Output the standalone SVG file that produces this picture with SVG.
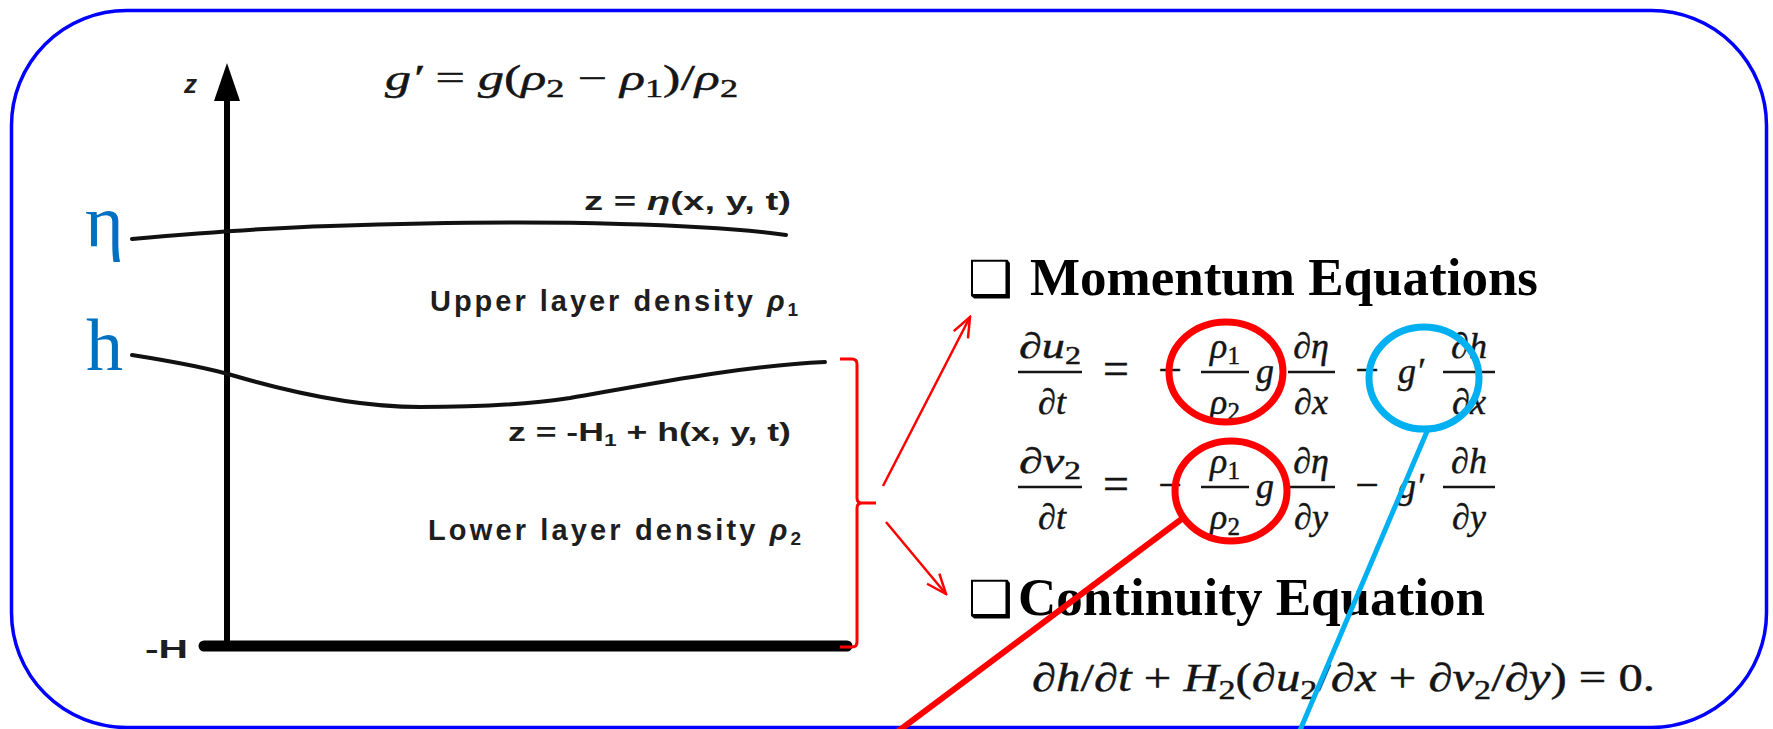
<svg xmlns="http://www.w3.org/2000/svg" width="1773" height="729" viewBox="0 0 1773 729">
  <defs>
    <style>
      .lbl { font-family: "Liberation Sans", "DejaVu Sans", sans-serif; font-weight: bold; fill: #1e1e1e; }
      .math { font-family: "Liberation Serif", "DejaVu Serif", serif; fill: #151515; stroke: #151515; stroke-width: 0.45; font-style: italic; }
      .up { font-style: normal; }
      .head { font-family: "Liberation Serif", "Times New Roman", serif; font-weight: bold; font-size: 53px; fill: #000; }
      .box { font-family: "DejaVu Sans", sans-serif; font-size: 50px; fill: #000; }
      .greek { font-family: "Liberation Serif", "DejaVu Serif", serif; font-size: 74px; fill: #0070C0; }
      .bar { stroke: #151515; stroke-width: 2.5; }
      .curve { fill: none; stroke: #111; stroke-width: 4; stroke-linecap: round; }
      .red { fill: none; stroke: #FF0000; }
      .blue { fill: none; stroke: #00B0F0; }
    </style>
    <marker id="ah" viewBox="-24 -12 26 24" refX="0" refY="0" markerWidth="26" markerHeight="24" markerUnits="userSpaceOnUse" orient="auto">
      <path d="M-20,-8 L0,0 L-20,8" fill="none" stroke="#FF0000" stroke-width="2.5"/>
    </marker>
  </defs>

  <rect width="1773" height="729" fill="#fff"/>

  <g id="frame">
    <rect x="11.5" y="10.5" width="1755" height="717" rx="115" ry="115" fill="none" stroke="#0000FF" stroke-width="3.5"/>
  </g>

  <g id="layer-diagram">
    <line x1="227" y1="96" x2="227" y2="648" stroke="#000" stroke-width="6"/>
    <polygon points="227,63 214,101 240,101" fill="#000"/>
    <line x1="204" y1="646" x2="847" y2="646" stroke="#000" stroke-width="11" stroke-linecap="round"/>
    <path class="curve" d="M132,239 C200,233 260,228 330,226 C420,223 520,221 620,224 C700,226 750,230 786,235"/>
    <path class="curve" d="M132,355 C170,361 205,367 235,376 C300,395 360,407 420,407 C480,407 530,404 570,398 C650,384 740,366 825,362"/>
  </g>

  <g id="axis-labels">
    <text class="lbl" x="184" y="93" font-size="26" font-style="italic">z</text>
    <text class="lbl" x="145" y="658" font-size="26" textLength="43" lengthAdjust="spacingAndGlyphs">-H</text>
    <text class="lbl" x="584" y="210" font-size="26" textLength="207" lengthAdjust="spacingAndGlyphs">z = <tspan font-style="italic">η</tspan>(x, y, t)</text>
    <text class="lbl" x="430" y="311" font-size="29" textLength="368" lengthAdjust="spacing">Upper layer density <tspan font-style="italic">ρ</tspan><tspan dy="5" font-size="19">1</tspan></text>
    <text class="lbl" x="508" y="441" font-size="25" textLength="283" lengthAdjust="spacingAndGlyphs">z = -H<tspan dy="5" font-size="16">1</tspan><tspan dy="-5"> + h(x, y, t)</tspan></text>
    <text class="lbl" x="428" y="540" font-size="29" textLength="373" lengthAdjust="spacing">Lower layer density <tspan font-style="italic">ρ</tspan><tspan dy="5" font-size="19">2</tspan></text>
    <text class="math" x="385" y="90" font-size="36" textLength="353" lengthAdjust="spacingAndGlyphs">g′ <tspan class="up">=</tspan> g<tspan class="up">(</tspan>ρ<tspan class="up" dy="7" font-size="25">2</tspan><tspan class="up" dy="-7"> − </tspan>ρ<tspan class="up" dy="7" font-size="25">1</tspan><tspan class="up" dy="-7">)/</tspan>ρ<tspan class="up" dy="7" font-size="25">2</tspan></text>
  </g>

  <g id="interface-labels">
    <text class="greek" x="85" y="246">η</text>
    <text class="greek" x="86" y="370">h</text>
  </g>

  <g id="connectors">
    <path class="red" stroke-width="3" d="M840,359 L852,359 Q857,359 857,364 L857,498 Q857,503 862,503 L876,503 M862,503 Q857,503 857,508 L857,642 Q857,647 852,647 L840,647"/>
    <line class="red" stroke-width="2.5" x1="883" y1="486" x2="970" y2="317" marker-end="url(#ah)"/>
    <line class="red" stroke-width="2.5" x1="886" y1="522" x2="946" y2="594" marker-end="url(#ah)"/>
  </g>

  <g id="momentum">
    <text class="box" x="968" y="296">❑</text>
    <text class="head" x="1030" y="295">Momentum Equations</text>
    <g id="eq-u" class="math" font-size="36">
      <text x="1050" y="358" text-anchor="middle" textLength="62" lengthAdjust="spacingAndGlyphs">∂u<tspan class="up" dy="6" font-size="25">2</tspan></text>
      <line class="bar" x1="1018" y1="372" x2="1082" y2="372"/>
      <text x="1052" y="414" text-anchor="middle">∂t</text>
      <text class="up" x="1116" y="384" text-anchor="middle" font-size="46">=</text>
      <text class="up" x="1170" y="384" text-anchor="middle" font-size="42">−</text>
      <text x="1225" y="358" text-anchor="middle">ρ<tspan class="up" dy="6" font-size="25">1</tspan></text>
      <line class="bar" x1="1201" y1="372" x2="1249" y2="372"/>
      <text x="1225" y="414" text-anchor="middle">ρ<tspan class="up" dy="6" font-size="25">2</tspan></text>
      <text x="1256" y="383">g</text>
      <text x="1311" y="358" text-anchor="middle">∂η</text>
      <line class="bar" x1="1288" y1="372" x2="1335" y2="372"/>
      <text x="1311" y="414" text-anchor="middle">∂x</text>
      <text class="up" x="1367" y="384" text-anchor="middle" font-size="42">−</text>
      <text x="1398" y="383">g′</text>
      <text x="1469" y="358" text-anchor="middle">∂h</text>
      <line class="bar" x1="1443" y1="372" x2="1495" y2="372"/>
      <text x="1469" y="414" text-anchor="middle">∂x</text>
    </g>
    <g id="eq-v" class="math" font-size="36">
      <text x="1050" y="473" text-anchor="middle" textLength="62" lengthAdjust="spacingAndGlyphs">∂v<tspan class="up" dy="6" font-size="25">2</tspan></text>
      <line class="bar" x1="1018" y1="487" x2="1082" y2="487"/>
      <text x="1052" y="529" text-anchor="middle">∂t</text>
      <text class="up" x="1116" y="499" text-anchor="middle" font-size="46">=</text>
      <text class="up" x="1170" y="499" text-anchor="middle" font-size="42">−</text>
      <text x="1225" y="473" text-anchor="middle">ρ<tspan class="up" dy="6" font-size="25">1</tspan></text>
      <line class="bar" x1="1201" y1="487" x2="1249" y2="487"/>
      <text x="1225" y="529" text-anchor="middle">ρ<tspan class="up" dy="6" font-size="25">2</tspan></text>
      <text x="1256" y="498">g</text>
      <text x="1311" y="473" text-anchor="middle">∂η</text>
      <line class="bar" x1="1288" y1="487" x2="1335" y2="487"/>
      <text x="1311" y="529" text-anchor="middle">∂y</text>
      <text class="up" x="1367" y="499" text-anchor="middle" font-size="42">−</text>
      <text x="1398" y="498">g′</text>
      <text x="1469" y="473" text-anchor="middle">∂h</text>
      <line class="bar" x1="1443" y1="487" x2="1495" y2="487"/>
      <text x="1469" y="529" text-anchor="middle">∂y</text>
    </g>
  </g>

  <g id="continuity">
    <text class="box" x="968" y="616">❑</text>
    <text class="head" x="1018" y="615">Continuity Equation</text>
    <text class="math" x="1032" y="691" font-size="40" textLength="623" lengthAdjust="spacingAndGlyphs">∂h<tspan class="up">/</tspan>∂t<tspan class="up"> + </tspan>H<tspan class="up" dy="8" font-size="28">2</tspan><tspan class="up" dy="-8">(</tspan>∂u<tspan class="up" dy="8" font-size="28">2</tspan><tspan class="up" dy="-8">/</tspan>∂x<tspan class="up"> + </tspan>∂v<tspan class="up" dy="8" font-size="28">2</tspan><tspan class="up" dy="-8">/</tspan>∂y<tspan class="up">) = 0.</tspan></text>
  </g>

  <g id="highlights">
    <ellipse class="red" stroke-width="7" cx="1226" cy="372" rx="57" ry="50"/>
    <ellipse class="red" stroke-width="7" cx="1231" cy="491" rx="56" ry="50"/>
    <ellipse class="blue" stroke-width="7" cx="1424" cy="378" rx="55" ry="51"/>
    <line class="red" stroke-width="6" x1="1183" y1="518" x2="893" y2="735"/>
    <line class="blue" stroke-width="5" x1="1428" y1="429" x2="1298" y2="735"/>
  </g>
</svg>
